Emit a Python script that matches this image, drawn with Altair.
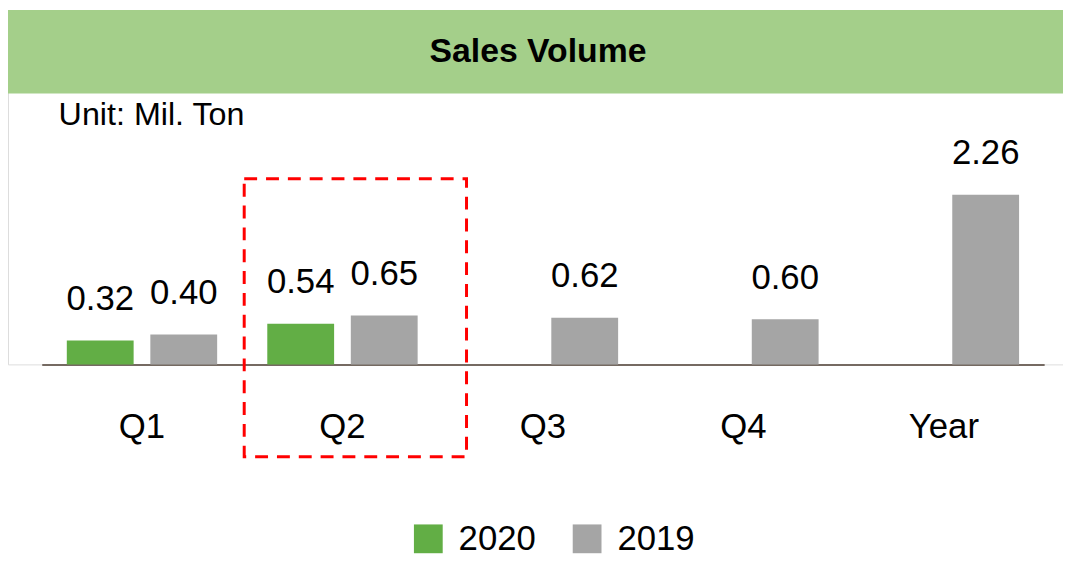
import altair as alt
import pandas as pd

# ---- data ----
categories = ["Q1", "Q2", "Q3", "Q4", "Year"]
sales_2020 = [0.32, 0.54, None, None, None]
sales_2019 = [0.40, 0.65, 0.62, 0.60, 2.26]
series_names = ["2020", "2019"]
series_colors = ["#62AE45", "#A5A5A5"]
chart_title = "Sales Volume"
unit_note = "Unit: Mil. Ton"

rows = []
for cat, v20, v19 in zip(categories, sales_2020, sales_2019):
    if v20 is not None:
        rows.append({"cat": cat, "series": "2020", "value": v20})
    if v19 is not None:
        rows.append({"cat": cat, "series": "2019", "value": v19})
df = pd.DataFrame(rows)
dummy = pd.DataFrame({"a": [0]})

FONT = "Liberation Sans"
W, H = 1063, 357

x_enc = alt.X(
    "cat:N",
    sort=categories,
    scale=alt.Scale(range=[34, 1044], paddingInner=0.25, paddingOuter=0.125),
    axis=alt.Axis(
        title=None, ticks=False, grid=False, domain=True,
        domainColor="#756A62", domainWidth=2,
        labelFontSize=35, labelColor="#000000", labelFont=FONT,
        labelBaseline="alphabetic", labelPadding=74, labelAngle=0,
    ),
)
xoff_enc = alt.XOffset(
    "series:N", sort=series_names,
    scale=alt.Scale(paddingInner=0.2, paddingOuter=0),
)
y_enc = alt.Y(
    "value:Q",
    scale=alt.Scale(domain=[0, 4.72], range=[H, 0], nice=False, zero=True),
    axis=None,
)
color_enc = alt.Color(
    "series:N",
    scale=alt.Scale(domain=series_names, range=series_colors),
    sort=series_names,
    legend=alt.Legend(
        title=None, orient="none", legendX=406, legendY=515,
        direction="horizontal", columns=2, symbolType="square",
        symbolSize=841, symbolStrokeWidth=0, symbolOpacity=1,
        labelFontSize=35, labelFont=FONT, labelColor="#000000",
        labelOffset=13, columnPadding=34, padding=0,
    ),
)

title_bar = alt.Chart(dummy).mark_rect(color="#A4CF8A").encode(
    x=alt.value(-8), x2=alt.value(W + 8), y=alt.value(0), y2=alt.value(84)
)
title_text = alt.Chart(dummy).mark_text(
    font=FONT, fontSize=34, fontWeight="bold", color="#000000",
    align="center", baseline="alphabetic",
).encode(x=alt.value(534), y=alt.value(52), text=alt.value(chart_title))
unit_text = alt.Chart(dummy).mark_text(
    font=FONT, fontSize=32.5, color="#000000", align="left", baseline="alphabetic",
).encode(x=alt.value(51), y=alt.value(116), text=alt.value(unit_note))

bars = alt.Chart(df).mark_bar().encode(
    x=x_enc, xOffset=xoff_enc, y=y_enc, color=color_enc
)
labels = alt.Chart(df).mark_text(
    font=FONT, fontSize=35, color="#000000", align="center",
    baseline="alphabetic", dy=-31,
).encode(
    x=x_enc, xOffset=xoff_enc, y=y_enc,
    text=alt.Text("value:Q", format=".2f"),
)
highlight = alt.Chart(dummy).mark_rect(
    fillOpacity=0, stroke="#FF0000", strokeWidth=3, strokeDash=[13, 9]
).encode(x=alt.value(238), x2=alt.value(462), y=alt.value(170), y2=alt.value(450))

chart = alt.layer(title_bar, title_text, unit_text, bars, labels, highlight).properties(
    width=W, height=H,
    autosize=alt.AutoSizeParams(type="none"),
    padding={"left": 0, "top": 0, "right": 0, "bottom": 198},
).configure_view(strokeWidth=0).configure(font=FONT)

chart.save("out.html", embed_options={"renderer": "svg", "actions": False})
